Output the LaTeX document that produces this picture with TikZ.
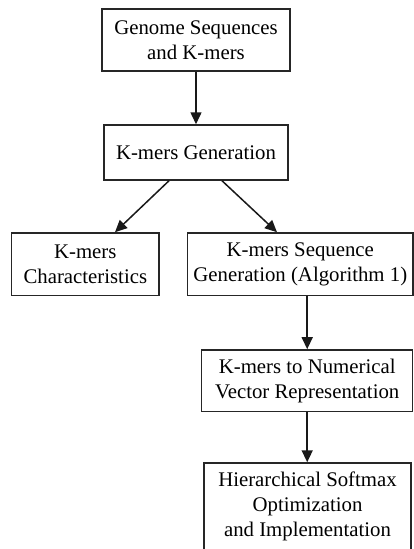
\documentclass[tikz,border=0pt]{standalone}
\usepackage{fontspec}
\setmainfont{Liberation Serif}
\usetikzlibrary{arrows.meta}
\begin{document}
\begin{tikzpicture}[x=1pt,y=-1pt,
  stage/.style={draw=black!85, line width=1.5pt, inner sep=0pt, align=center,
    font=\fontsize{20.8}{25}\selectfont, text=black},
  arr/.style={draw=black!90, line width=1.5pt,
    -{Triangle[length=12pt,width=11pt]}}]
  \useasboundingbox (0,0) rectangle (414,549);
  \clip (0,0) rectangle (414,549);

  \node[stage, minimum width=188pt, minimum height=62pt] (gen) at (196,40)
    {Genome Sequences\\and K-mers};
  \node[stage, minimum width=184pt, minimum height=55pt] (kgen) at (196,152.5)
    {K-mers Generation};
  \node[stage, minimum width=147.5pt, minimum height=62.5pt] (kchar) at (85.3,264.2)
    {K-mers\\Characteristics};
  \node[stage, minimum width=225.3pt, minimum height=62.5pt] (kseq) at (300.3,264.2)
    {K-mers Sequence\\Generation (Algorithm 1)};
  \node[stage, minimum width=211pt, minimum height=61.7pt] (kvec) at (307.2,380.8)
    {K-mers to Numerical\\Vector Representation};
  \node[stage, minimum width=207pt, minimum height=87pt] (hsm) at (307.5,506.5)
    {Hierarchical Softmax\\Optimization\\and Implementation};

  \draw[arr] (gen.south) -- (kgen.north);
  \draw[arr] ([xshift=-27pt]kgen.south) -- ([xshift=29.7pt]kchar.north);
  \draw[arr] ([xshift=26pt]kgen.south) -- ([xshift=-23.3pt]kseq.north);
  \draw[arr] ([xshift=6.9pt]kseq.south) -- (kvec.north);
  \draw[arr] (kvec.south) -- ([xshift=-0.3pt]hsm.north);
\end{tikzpicture}
\end{document}
